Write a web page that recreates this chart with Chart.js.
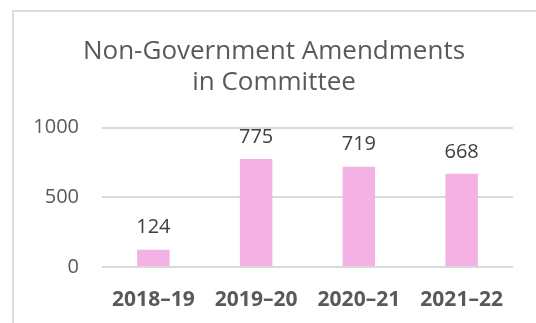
<!DOCTYPE html>
<html>
<head>
<meta charset="utf-8">
<script src="https://cdn.jsdelivr.net/npm/chart.js@4/dist/chart.umd.min.js"></script>
<style>
  html, body { margin: 0; padding: 0; background: #ffffff; }
  canvas { display: block; }
</style>
</head>
<body>
<canvas id="chart" width="536" height="323"></canvas>
<script>
// Financial years and the number of non-government amendments moved in committee
const categories = ['2018–19', '2019–20', '2020–21', '2021–22'];
const amendments = [124, 775, 719, 668];
const titleLines = ['Non-Government Amendments', 'in Committee'];
const yTicks = [0, 500, 1000];

const FONT = '"Open Sans", "Noto Sans", sans-serif';

// Light frame around the chart panel
const framePlugin = {
  id: 'frame',
  beforeDraw(chart) {
    const ctx = chart.ctx;
    ctx.save();
    ctx.fillStyle = '#ffffff';
    ctx.fillRect(0, 0, chart.width, chart.height);
    ctx.strokeStyle = '#dcdcdc';
    ctx.lineWidth = 2;
    ctx.strokeRect(13, 11, chart.width + 20, chart.height + 20);
    ctx.restore();
  }
};

// Value written above each bar
const valueLabels = {
  id: 'valueLabels',
  afterDatasetsDraw(chart) {
    const ctx = chart.ctx;
    const meta = chart.getDatasetMeta(0);
    const values = chart.data.datasets[0].data;
    ctx.save();
    ctx.font = '20px ' + FONT;
    ctx.fillStyle = '#404040';
    ctx.textAlign = 'center';
    ctx.textBaseline = 'middle';
    meta.data.forEach((bar, i) => {
      ctx.fillText(String(values[i]), bar.x, bar.y - 22);
    });
    ctx.restore();
  }
};

new Chart(document.getElementById('chart'), {
  type: 'bar',
  data: {
    labels: categories,
    datasets: [{
      data: amendments,
      backgroundColor: '#F3B2E3',
      borderWidth: 0,
      barPercentage: 0.316,
      categoryPercentage: 1
    }]
  },
  options: {
    responsive: false,
    animation: false,
    layout: { padding: { left: 35, right: 23, top: 0, bottom: 0 } },
    plugins: {
      legend: { display: false },
      tooltip: { enabled: false },
      title: {
        display: true,
        text: titleLines,
        color: '#595959',
        font: { family: FONT, size: 26, weight: 'normal', lineHeight: '31px' },
        padding: { top: 36.5, bottom: 29 }
      }
    },
    scales: {
      x: {
        grid: { display: false, drawTicks: false },
        border: { display: false },
        ticks: {
          color: '#595959',
          font: { family: FONT, size: 21, weight: 'bold' },
          padding: 20,
          maxRotation: 0,
          autoSkip: false
        },
        afterFit(scale) { scale.height = 56; }
      },
      y: {
        min: 0,
        max: 1000,
        afterBuildTicks(scale) { scale.ticks = yTicks.map(v => ({ value: v })); },
        grid: { color: '#d9d9d9', lineWidth: 2, drawTicks: false },
        border: { display: false },
        ticks: {
          color: '#595959',
          font: { family: FONT, size: 20 },
          padding: 23,
          callback: (value) => String(value)
        },
        afterFit(scale) { scale.width = 67; }
      }
    }
  },
  plugins: [framePlugin, valueLabels]
});
</script>
</body>
</html>
